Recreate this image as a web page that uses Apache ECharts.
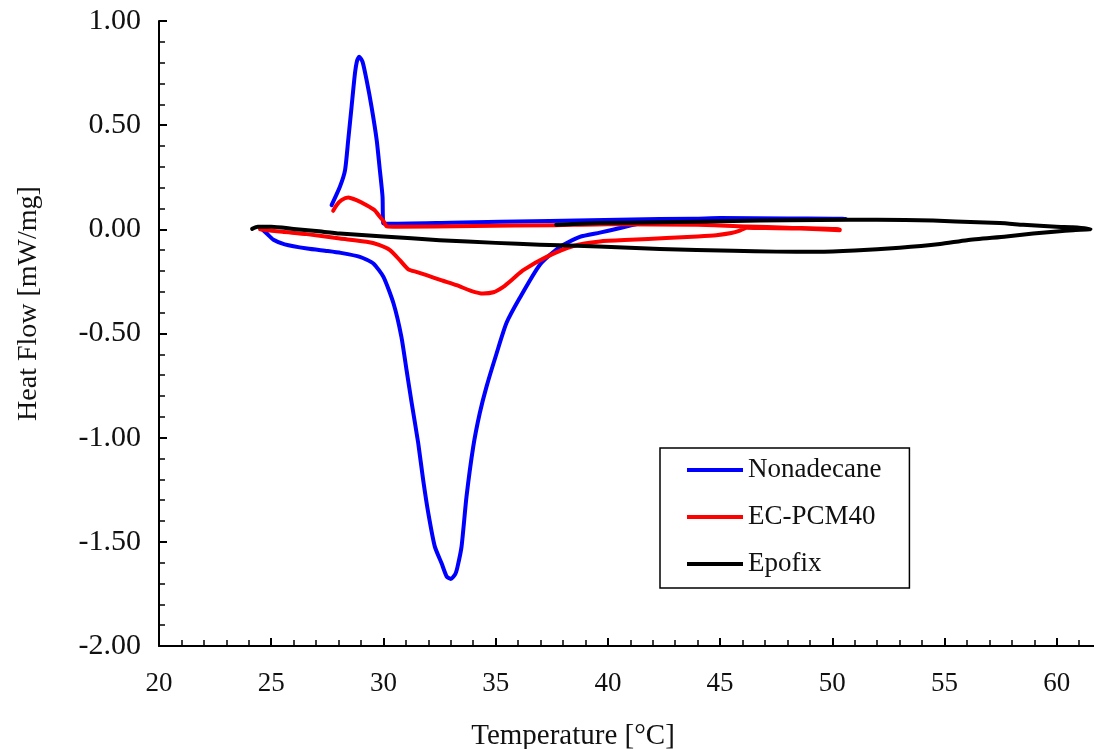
<!DOCTYPE html>
<html>
<head>
<meta charset="utf-8">
<script src="https://cdn.jsdelivr.net/npm/echarts@6/dist/echarts.min.js"></script>
<style>
html,body{margin:0;padding:0;background:#fff;}
#c{width:1094px;height:749px;}
</style>
</head>
<body>
<div id="c"></div>
<script>
// ---- data (Temperature °C, Heat Flow mW/mg) ----
const seriesNames = ['Nonadecane', 'EC-PCM40', 'Epofix'];
const xTicks = [20, 25, 30, 35, 40, 45, 50, 55, 60];
const yTicks = [-2.0, -1.5, -1.0, -0.5, 0.0, 0.5, 1.0];

// Nonadecane: heating then cooling
const nonadecaneT = [24.55, 24.8, 25.1, 25.6, 26.6, 27.5, 28.1, 28.95, 29.55, 30.0, 30.45, 30.8, 31.03, 31.26, 31.55, 31.77, 32.0, 32.29, 32.59, 32.82, 33.0, 33.2, 33.3, 33.48, 33.7, 34.0, 34.29, 34.59, 35.04, 35.48, 36.07, 36.97, 37.86, 38.75, 39.64, 40.5, 41.5, 42.5, 45.0, 48.0, 50.6,
  50.6, 48.0, 45.3, 42.3, 37.4, 33.0, 30.15, 29.99, 29.96, 29.84, 29.7, 29.47, 29.25, 29.07, 28.92, 28.83, 28.73, 28.58, 28.43, 28.29, 28.06, 27.69];
const nonadecaneV = [0.005, -0.02, -0.05, -0.072, -0.092, -0.104, -0.113, -0.132, -0.164, -0.228, -0.356, -0.516, -0.676, -0.835, -1.027, -1.203, -1.363, -1.523, -1.603, -1.667, -1.678, -1.655, -1.62, -1.523, -1.284, -1.044, -0.883, -0.756, -0.596, -0.45, -0.33, -0.17, -0.084, -0.036, -0.016, 0.005, 0.03, 0.042, 0.055, 0.052, 0.05,
  0.048, 0.048, 0.052, 0.05, 0.04, 0.032, 0.027, 0.03, 0.156, 0.284, 0.428, 0.588, 0.716, 0.804, 0.828, 0.812, 0.748, 0.588, 0.428, 0.284, 0.204, 0.116];

// EC-PCM40: heating then cooling
const ecpcmT = [24.5, 25.5, 26.58, 28.06, 29.25, 29.8, 30.29, 30.73, 31.11, 31.5, 31.92, 32.6, 33.26, 33.9, 34.44, 34.9, 35.34, 35.8, 36.23, 37.27, 38.46, 39.64, 41.0, 42.6, 44.0, 44.83, 45.5, 45.88, 46.18, 47.0, 48.55, 50.33,
  50.33, 48.0, 46.2, 44.0, 40.0, 37.7, 34.0, 30.6, 30.15, 30.0, 29.84, 29.61, 29.25, 28.8, 28.43, 28.13, 27.91, 27.76];
const ecpcmV = [0.0, -0.012, -0.023, -0.044, -0.06, -0.075, -0.1, -0.148, -0.192, -0.205, -0.22, -0.245, -0.268, -0.295, -0.308, -0.302, -0.276, -0.235, -0.196, -0.132, -0.08, -0.058, -0.05, -0.042, -0.034, -0.028, -0.018, -0.006, 0.008, 0.006, 0.004, -0.004,
  0.0, 0.008, 0.014, 0.022, 0.024, 0.02, 0.016, 0.012, 0.014, 0.04, 0.06, 0.092, 0.116, 0.14, 0.153, 0.14, 0.116, 0.089];

// Epofix: heating then cooling
const epofixT = [24.15, 24.4, 25.0, 26.0, 27.0, 28.06, 30.0, 32.5, 35.0, 36.97, 39.6, 42.32, 45.58, 47.5, 49.3, 51.0, 53.0, 54.8, 56.0, 57.75, 58.95, 60.0, 60.73, 61.47,
  61.5, 60.7, 59.98, 58.5, 57.46, 55.5, 54.49, 52.0, 50.78, 48.0, 45.58, 42.3, 39.64, 37.7];
const epofixV = [0.002, 0.012, 0.012, 0.002, -0.008, -0.02, -0.034, -0.052, -0.065, -0.074, -0.082, -0.094, -0.103, -0.107, -0.108, -0.102, -0.088, -0.07, -0.052, -0.034, -0.02, -0.01, -0.004, 0.0,
  0.002, 0.01, 0.012, 0.022, 0.03, 0.038, 0.042, 0.046, 0.046, 0.044, 0.04, 0.034, 0.03, 0.022];

function pairs(t, v) { return t.map((x, i) => [x, v[i]]); }

const FONT = 'Liberation Serif';
const TXT = '#111';

const chart = echarts.init(document.getElementById('c'), null, {renderer: 'canvas'});
chart.setOption({
  backgroundColor: '#fff',
  animation: false,
  grid: {left: 159, top: 21, width: 1010, bottom: 103, containLabel: false, outerBoundsMode: 'none'},
  legend: {
    orient: 'vertical',
    left: 660, top: 448,
    padding: [7, 28, 9, 27],
    icon: 'rect',
    itemWidth: 56, itemHeight: 4, itemGap: 17,
    borderColor: '#000', borderWidth: 1.5, borderRadius: 0,
    backgroundColor: '#fff',
    textStyle: {fontFamily: FONT, fontSize: 27, color: TXT, lineHeight: 30},
    data: seriesNames
  },
  xAxis: {
    type: 'value', min: 20, max: 65, interval: 5,
    name: 'Temperature [°C]', nameLocation: 'middle', nameGap: 76,
    nameTextStyle: {fontFamily: FONT, fontSize: 29, color: TXT, padding: [0, 182, 0, 0]},
    axisLine: {show: true, onZero: false, lineStyle: {color: '#000', width: 2}},
    axisTick: {show: true, inside: true, length: 8, lineStyle: {color: '#000', width: 2}},
    minorTick: {show: true, splitNumber: 5, length: 6, lineStyle: {color: '#000', width: 1.5}},
    axisLabel: {fontFamily: FONT, fontSize: 27, color: TXT, margin: 24, formatter: v => String(v), showMaxLabel: false},
    splitLine: {show: false}, minorSplitLine: {show: false}
  },
  yAxis: {
    type: 'value', min: -2, max: 1, interval: 0.5,
    name: 'Heat Flow [mW/mg]', nameLocation: 'middle', nameGap: 116,
    nameTextStyle: {fontFamily: FONT, fontSize: 28, color: TXT, padding: [0, 0, 0, 60]},
    axisLine: {show: true, onZero: false, lineStyle: {color: '#000', width: 2}},
    axisTick: {show: true, inside: true, length: 8, lineStyle: {color: '#000', width: 2}},
    minorTick: {show: true, splitNumber: 5, length: 6, lineStyle: {color: '#000', width: 1.5}},
    axisLabel: {fontFamily: FONT, fontSize: 30, color: TXT, margin: 18, formatter: v => v.toFixed(2)},
    splitLine: {show: false}, minorSplitLine: {show: false}
  },
  series: [
    {name: seriesNames[0], type: 'line', data: pairs(nonadecaneT, nonadecaneV), showSymbol: false, symbol: 'none', smooth: 0.2,
     lineStyle: {color: '#0000ff', width: 4, cap: 'round', join: 'round'}, itemStyle: {color: '#0000ff'}, z: 2},
    {name: seriesNames[1], type: 'line', data: pairs(ecpcmT, ecpcmV), showSymbol: false, symbol: 'none', smooth: 0.2,
     lineStyle: {color: '#ff0000', width: 4, cap: 'round', join: 'round'}, itemStyle: {color: '#ff0000'}, z: 3},
    {name: seriesNames[2], type: 'line', data: pairs(epofixT, epofixV), showSymbol: false, symbol: 'none', smooth: 0.2,
     lineStyle: {color: '#000000', width: 4, cap: 'round', join: 'round'}, itemStyle: {color: '#000000'}, z: 4}
  ]
});
</script>
</body>
</html>
